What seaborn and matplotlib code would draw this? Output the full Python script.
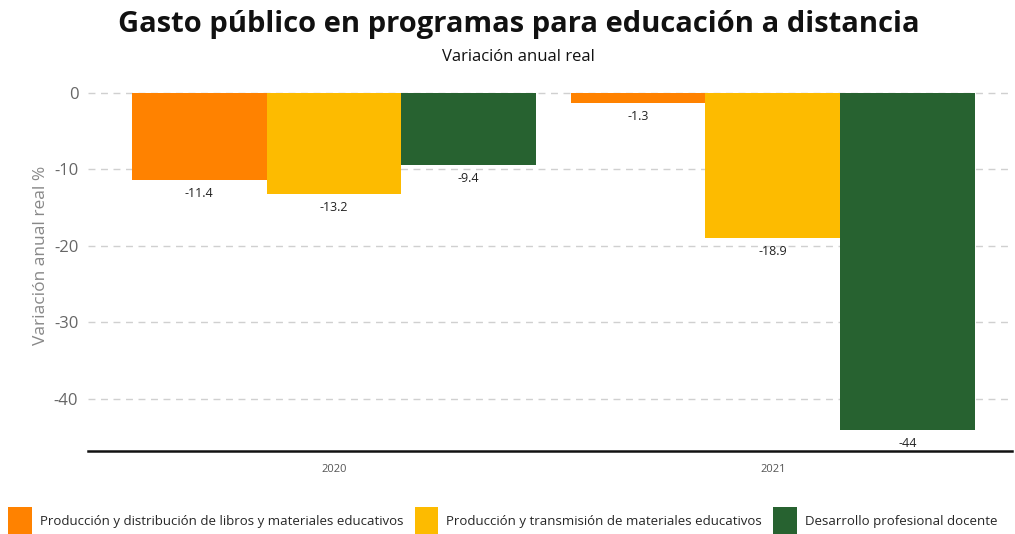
import pandas as pd
import seaborn as sns
import matplotlib.pyplot as plt

# ──────────────────────────────────────────────
# Data
# ──────────────────────────────────────────────

years = ["2020", "2021"]
programas = [
    "Producción y distribución de libros y materiales educativos",
    "Producción y transmisión de materiales educativos",
    "Desarrollo profesional docente",
]
libros = [-11.4, -1.3]
transmision = [-13.2, -18.9]
docente = [-9.4, -44]
colores = ["#FF8200", "#FDBB00", "#276230"]

df = pd.DataFrame({
    "year": years * 3,
    "programa": [programas[0]] * 2 + [programas[1]] * 2 + [programas[2]] * 2,
    "valor": libros + transmision + docente,
})

# ──────────────────────────────────────────────
# Plot
# ──────────────────────────────────────────────

sns.set_style("white")
plt.rcParams["font.family"] = ["Open Sans", "DejaVu Sans"]
plt.rcParams["axes.unicode_minus"] = False

fig = plt.figure(figsize=(10.15, 5.34), dpi=100)
ax = fig.add_axes([88 / 1015, 1 - 451 / 534, 924 / 1015, (451 - 81.5) / 534])

sns.barplot(
    data=df, x="year", y="valor", hue="programa",
    hue_order=programas, palette=colores, width=0.92,
    saturation=1, linewidth=0, ax=ax, legend=True,
)

for cont in ax.containers:
    ax.bar_label(cont, fmt="%g", padding=5, fontsize=9, color="#222222")

ax.set_ylim(-46.8, 1.5)
ax.set_xlim(-0.56, 1.545)
ax.set_yticks([0, -10, -20, -30, -40])
ax.yaxis.grid(True, color="#d0d0d0", linestyle=(0, (5, 4)), linewidth=1)
ax.set_axisbelow(True)
for s in ["top", "right", "left"]:
    ax.spines[s].set_visible(False)
ax.spines["bottom"].set_color("#111111")
ax.spines["bottom"].set_linewidth(1.8)
ax.tick_params(axis="y", labelsize=12, labelcolor="#666666", length=0, pad=7)
ax.tick_params(axis="x", labelsize=8, labelcolor="#555555", length=0, pad=9)
ax.set_xlabel("")
ax.set_ylabel("Variación anual real %", fontsize=12.5, color="#888888", labelpad=4)
ax.yaxis.set_label_coords(-0.042, 0.53)

fig.text(0.511, 0.955, "Gasto público en programas para educación a distancia",
         ha="center", va="center", fontsize=21, fontweight="bold", color="#111111")
fig.text(0.511, 0.893, "Variación anual real", ha="center", va="center",
         fontsize=12, color="#111111")

handles, labels = ax.get_legend_handles_labels()
ax.legend_.remove()
fig.legend(handles, labels, loc="lower left", bbox_to_anchor=(0.003, -0.012),
           ncol=3, frameon=False, fontsize=9.5, handlelength=1.8,
           handleheight=2.9, handletextpad=0.6, columnspacing=0.85,
           borderaxespad=0.0)

plt.savefig("out.png", dpi=100)
